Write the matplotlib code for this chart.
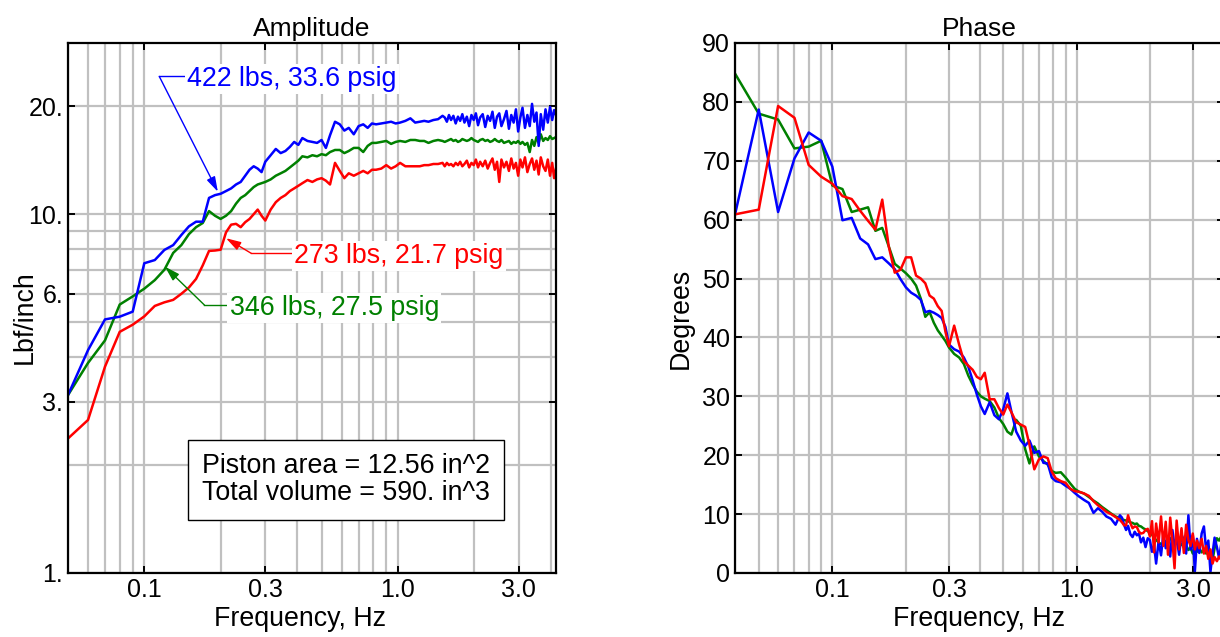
import matplotlib
matplotlib.use('Agg')
import matplotlib.pyplot as plt
from matplotlib.ticker import FixedLocator, FixedFormatter, NullFormatter

plt.rcParams['font.family'] = ['Liberation Sans', 'DejaVu Sans']

# frequency points (Hz)
freq = [0.05, 0.06, 0.07, 0.08, 0.09, 0.10, 0.11, 0.12, 0.13, 0.14, 0.15, 0.16, 0.17, 0.18, 0.19, 0.20,
        0.21, 0.22, 0.23, 0.24, 0.25, 0.26, 0.27, 0.28, 0.29, 0.30,
        0.315, 0.33, 0.345, 0.36, 0.375, 0.39, 0.405, 0.42, 0.44, 0.46,
        0.48, 0.50, 0.52, 0.54, 0.565, 0.59, 0.615, 0.64, 0.67, 0.70,
        0.73, 0.76, 0.79, 0.82, 0.86, 0.90, 0.94, 0.98,
        1.02, 1.07, 1.12, 1.17, 1.22, 1.27, 1.32, 1.38, 1.44, 1.50,
        1.53, 1.56, 1.59, 1.62, 1.655, 1.69, 1.725, 1.76, 1.795, 1.83,
        1.87, 1.91, 1.95, 1.99, 2.03, 2.07, 2.11, 2.16, 2.21, 2.26,
        2.31, 2.36, 2.41, 2.46, 2.51, 2.56, 2.62, 2.68, 2.74, 2.80,
        2.86, 2.92, 2.98, 3.04, 3.10, 3.17, 3.24, 3.31, 3.38, 3.45,
        3.52, 3.59, 3.66, 3.74, 3.82, 3.90, 3.98, 4.06, 4.13, 4.20]
phase_freq = [0.04] + freq

# amplitude, Lbf/inch
amp_422 = [3.13, 4.18, 5.09, 5.18, 5.35, 7.3, 7.45, 7.95, 8.2, 8.75, 9.25, 9.53, 9.53, 11.1, 11.3, 11.4,
           11.6, 11.8, 12.1, 12.3, 12.8, 13.3, 13.6, 13.4, 13.1, 14.0,
           14.6, 15.2, 14.8, 15.0, 15.4, 15.9, 15.6, 16.3, 16.0, 15.9,
           15.8, 16.1, 15.3, 16.6, 18.1, 17.8, 17.1, 17.4, 16.7, 17.6,
           17.8, 17.4, 17.9, 17.8, 17.9, 18.0, 18.1, 17.9,
           18.0, 18.2, 18.5, 18.0, 18.1, 18.2, 18.1, 18.3, 18.4, 18.8,
           18.6, 18.1, 18.9, 18.3, 18.8, 17.9, 18.7, 18.2, 19.0, 18.0,
           18.7, 17.6, 18.9, 18.3, 19.1, 17.7, 18.6, 19.0, 17.5, 18.8,
           18.2, 19.3, 17.4, 18.7, 19.1, 17.6, 18.4, 19.4, 17.3, 18.9,
           18.0, 19.6, 17.0, 18.6, 19.8, 17.4, 18.9, 17.6, 20.3, 18.1,
           19.2, 15.5, 19.0, 17.2, 19.6, 18.0, 19.9, 18.3, 19.5, 18.9]
amp_346 = [3.13, 3.85, 4.45, 5.6, 5.9, 6.2, 6.55, 7.0, 7.8, 8.2, 8.8, 9.2, 9.45, 10.2, 9.9, 9.7,
           9.9, 10.2, 10.7, 11.1, 11.3, 11.6, 11.9, 12.1, 12.2, 12.3,
           12.5, 12.8, 13.0, 13.2, 13.5, 13.8, 14.1, 14.5, 14.4, 14.6,
           14.5, 14.7, 14.6, 14.9, 15.1, 15.1, 14.8, 15.0, 15.3, 15.3,
           14.9, 15.5, 15.8, 15.8, 15.9, 16.0, 15.7, 15.9,
           16.0, 15.9, 16.1, 16.1, 16.0, 16.0, 15.8, 16.0, 16.1, 16.0,
           15.9, 16.0, 16.1, 16.2, 16.0, 16.1, 15.9, 16.0, 16.2, 16.1,
           16.0, 16.1, 16.3, 16.1, 16.0, 15.9, 16.1, 16.2, 16.0, 16.1,
           15.9, 16.0, 16.2, 16.0, 15.9, 16.1, 15.8, 15.9, 16.0, 15.7,
           15.9, 15.8, 16.0, 15.7, 15.9, 15.6, 15.8, 14.9, 16.1, 15.5,
           16.4, 15.8, 16.7, 16.0, 16.3, 16.1, 16.5, 16.2, 16.3, 16.4]
amp_273 = [2.37, 2.67, 3.76, 4.7, 4.92, 5.19, 5.55, 5.68, 5.77, 6.0, 6.25, 6.6, 7.2, 7.9, 7.92, 7.96,
           8.9, 9.35, 9.4, 9.2, 9.5, 9.7, 10.0, 10.3, 9.9, 9.6,
           10.3, 10.8, 11.1, 11.3, 11.6, 11.8, 12.0, 12.2, 12.45, 12.3,
           12.5, 12.6, 12.4, 12.1, 13.9, 13.2, 12.6, 13.0, 12.8, 13.0,
           13.2, 13.0, 13.3, 13.3, 13.4, 13.7, 13.4, 13.6,
           13.9, 13.6, 13.6, 13.6, 13.6, 13.7, 13.7, 13.8, 13.8, 13.9,
           13.6, 13.9, 13.7, 13.8, 13.6, 13.9, 13.7, 14.0, 13.6, 13.8,
           14.1, 13.5, 13.9, 13.7, 14.2, 13.5, 14.0, 13.6, 14.1, 13.4,
           13.9, 14.3, 13.3, 14.0, 12.3, 14.2, 13.5, 14.0, 13.2, 14.3,
           13.4, 13.9, 12.8, 14.2, 13.5, 14.4, 13.1, 13.8, 14.3, 13.3,
           14.1, 12.9, 14.4, 13.6, 13.2, 14.2, 12.8, 13.9, 12.6, 13.4]

# phase, degrees (first value at 0.04 Hz)
phase_422 = [60.9,
             78.7, 61.3, 70.4, 74.8, 73.4, 69.0, 59.9, 60.3, 56.8, 55.8, 53.3, 53.6, 52.6, 51.6, 49.9, 48.5,
             47.6, 47.1, 46.4, 44.3, 44.5, 44.2, 43.8, 43.3, 41.8, 38.8,
             38.0, 37.6, 36.6, 35.0, 32.7, 30.3, 28.3, 27.0, 29.0, 26.8,
             26.1, 27.8, 30.5, 27.4, 24.0, 22.5, 21.6, 22.5, 20.4, 20.7,
             18.7, 18.6, 16.2, 15.6, 15.4, 14.8, 14.3, 13.6,
             13.0, 12.4, 11.9, 10.2, 11.0, 10.4, 9.6, 9.2, 8.2, 9.8,
             9.4, 8.2, 7.3, 8.0, 6.6, 6.1, 7.0, 6.4, 6.7, 5.2,
             6.0, 4.4, 5.9, 5.6, 3.6, 4.8, 1.6, 5.4, 3.0, 6.7,
             4.2, 5.0, 2.8, 7.3, 4.5, 6.0, 3.1, 6.5, 5.6, 3.3,
             9.8, 4.0, 6.4, 0.3, 5.8, 3.4, 6.7, 7.9, 3.9, 5.5,
             0.2, 3.3, 6.0, 4.4, 2.5, 5.0, 3.0, 4.5, 3.5, 4.0]
phase_346 = [84.8,
             78.0, 77.0, 72.1, 72.4, 73.4, 65.8, 65.2, 61.3, 61.7, 62.1, 58.1, 58.6, 55.5, 52.5, 51.7, 50.9,
             50.0, 48.8, 46.6, 43.5, 44.3, 42.5, 41.2, 40.3, 39.4, 38.3,
             37.2, 36.6, 35.5, 33.5, 32.0, 30.8, 30.0, 29.6, 29.2, 28.1,
             26.3, 25.3, 24.0, 23.5, 26.0, 25.0, 21.0, 18.6, 21.5, 19.8,
             19.0, 18.4, 17.3, 17.0, 17.1, 16.2, 15.2, 14.3,
             13.8, 13.5, 12.9, 12.3, 11.8, 11.2, 10.7, 10.1, 9.6, 9.3,
             9.1, 9.0, 8.9, 8.8, 8.6, 8.5, 8.3, 8.4, 8.0, 7.9,
             7.6, 7.4, 7.1, 6.9, 6.5, 6.0, 5.6, 5.2, 4.9, 4.7,
             5.4, 5.0, 5.9, 5.6, 4.8, 5.3, 4.6, 4.9, 4.4, 4.7,
             3.9, 4.3, 3.3, 4.0, 3.6, 4.2, 3.5, 3.9, 3.3, 4.0,
             2.6, 2.2, 4.2, 5.9, 5.5, 6.2, 5.0, 5.8, 6.0, 6.0]
phase_273 = [60.9,
             61.7, 79.3, 77.3, 69.3, 67.3, 66.1, 64.0, 63.5, 61.5, 59.8, 58.3, 63.4, 55.5, 51.0, 51.5, 53.6,
             53.6, 50.5, 50.0, 49.2, 47.1, 46.6, 45.3, 44.5, 41.0, 38.5,
             42.0, 38.8, 36.0, 35.2, 34.5, 33.3, 32.9, 34.0, 29.5, 29.5,
             28.0, 26.9, 28.6, 27.3, 25.6, 25.2, 24.8, 21.8, 17.6, 19.3,
             19.8, 19.5, 17.2, 16.1, 15.6, 15.3, 14.3, 13.9,
             13.8, 13.5, 13.1, 12.2, 11.5, 11.0, 10.4, 10.0, 9.5, 9.0,
             8.6, 8.1, 8.1, 9.8, 8.5, 7.6, 7.9, 7.8, 7.0, 6.7,
             6.8, 7.3, 7.5, 6.2, 8.8, 3.5, 8.4, 5.2, 9.6, 4.6,
             8.7, 3.1, 9.4, 5.5, 0.8, 8.9, 4.0, 7.6, 3.4, 8.2,
             5.6, 4.6, 6.7, 4.0, 5.5, 4.2, 5.8, 3.3, 4.6, 2.4,
             4.0, 1.6, 2.7, 2.0, 2.8, 2.2, 2.5, 2.3, 2.4, 2.4]

x_ticks = [0.1, 0.3, 1.0, 3.0]
x_tick_labels = ['0.1', '0.3', '1.0', '3.0']
x_grid = [0.04, 0.05, 0.06, 0.07, 0.08, 0.09, 0.2, 0.4, 0.5, 0.6, 0.7, 0.8, 0.9, 2.0, 4.0]
amp_ticks = [1, 3, 6, 10, 20]
amp_tick_labels = ['1.', '3.', '6.', '10.', '20.']
amp_grid = [2, 4, 5, 7, 8, 9]
phase_ticks = [0, 10, 20, 30, 40, 50, 60, 70, 80, 90]

BLUE, GREEN, RED = '#0000ff', '#008000', '#ff0000'
TICK_FS = 18
LABEL_FS = 19.3
GRID = '#c0c0c0'

fig = plt.figure(figsize=(12.2, 6.37), dpi=100)
ax1 = fig.add_axes([0.0557, 0.1005, 0.4, 0.832])
ax2 = fig.add_axes([0.6025, 0.1005, 0.4008, 0.832])


def style_axes(ax):
    ax.set_xscale('log')
    ax.xaxis.set_major_locator(FixedLocator(x_ticks))
    ax.xaxis.set_major_formatter(FixedFormatter(x_tick_labels))
    ax.xaxis.set_minor_locator(FixedLocator(x_grid))
    ax.xaxis.set_minor_formatter(NullFormatter())
    ax.grid(True, which='both', color=GRID, lw=1.6)
    ax.set_axisbelow(True)
    ax.tick_params(which='major', direction='in', length=5, width=1.4,
                   top=True, right=True, labelsize=TICK_FS, pad=3.5)
    ax.tick_params(which='minor', length=0)
    for sp in ax.spines.values():
        sp.set_linewidth(1.6)
    ax.set_xlabel('Frequency, Hz', fontsize=LABEL_FS, labelpad=3)


# ---- Amplitude
style_axes(ax1)
ax1.set_yscale('log')
ax1.yaxis.set_major_locator(FixedLocator(amp_ticks))
ax1.yaxis.set_major_formatter(FixedFormatter(amp_tick_labels))
ax1.yaxis.set_minor_locator(FixedLocator(amp_grid))
ax1.yaxis.set_minor_formatter(NullFormatter())
ax1.plot(freq, amp_346, color=GREEN, lw=1.8)
ax1.plot(freq, amp_422, color=BLUE, lw=1.8)
ax1.plot(freq, amp_273, color=RED, lw=1.8)
ax1.set_xlim(0.05, 4.2)
ax1.set_ylim(1, 30)
ax1.set_title('Amplitude', fontsize=19, pad=5)
ax1.set_ylabel('Lbf/inch', fontsize=LABEL_FS)
ax1.yaxis.set_label_coords(-0.062, 0.483)
ax1.xaxis.label.set_x(0.475)


def callout(ax, text, tip, elbow, text_x, color):
    ax.annotate('', xy=tip, xytext=elbow,
                arrowprops=dict(arrowstyle='-|>,head_length=0.5,head_width=0.15',
                                mutation_scale=18, color=color, lw=1,
                                shrinkA=0, shrinkB=0))
    ax.plot([elbow[0], text_x], [elbow[1], elbow[1]], color=color, lw=1)
    ax.annotate(text, xy=(text_x, elbow[1]), xytext=(0, -2), textcoords='offset points',
                color=color, fontsize=LABEL_FS, ha='left', va='center',
                bbox=dict(facecolor='white', edgecolor='none', pad=1.5))


callout(ax1, '422 lbs, 33.6 psig', (0.195, 11.55), (0.1146, 24.2), 0.148, BLUE)
callout(ax1, '273 lbs, 21.7 psig', (0.21, 8.57), (0.264, 7.78), 0.39, RED)
callout(ax1, '346 lbs, 27.5 psig', (0.1206, 7.14), (0.1727, 5.58), 0.217, GREEN)

ax1.text(0.5705, 0.1755, 'Piston area = 12.56 in^2\nTotal volume = 590. in^3',
         transform=ax1.transAxes, ha='center', va='center', fontsize=LABEL_FS,
         linespacing=1.05,
         bbox=dict(boxstyle='square,pad=0.52', facecolor='white',
                   edgecolor='black', lw=1))

# ---- Phase
style_axes(ax2)
ax2.yaxis.set_major_locator(FixedLocator(phase_ticks))
ax2.plot(phase_freq, phase_346, color=GREEN, lw=1.8)
ax2.plot(phase_freq, phase_422, color=BLUE, lw=1.8)
ax2.plot(phase_freq, phase_273, color=RED, lw=1.8)
ax2.set_xlim(0.04, 4.0)
ax2.set_ylim(0, 90)
ax2.set_title('Phase', fontsize=19, pad=5)
ax2.set_ylabel('Degrees', fontsize=LABEL_FS)
ax2.yaxis.set_label_coords(-0.084, 0.481)

fig.savefig('out.png', dpi=100)
